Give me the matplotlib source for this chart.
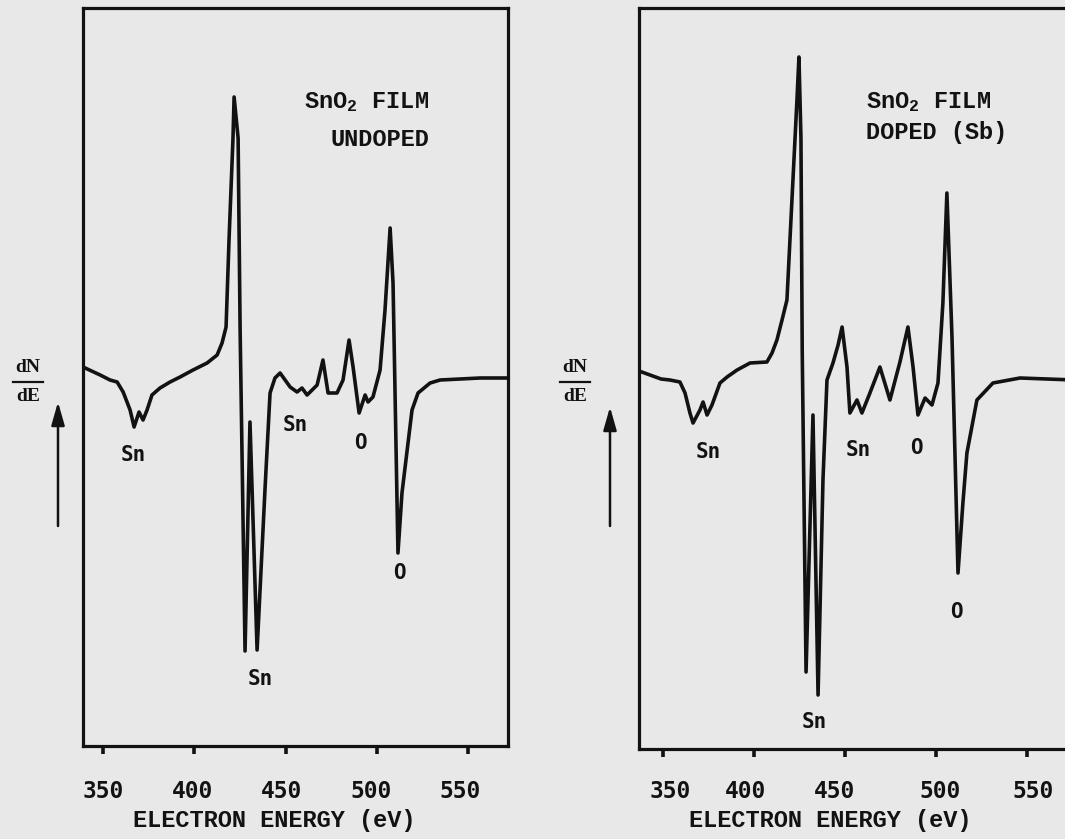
import matplotlib
matplotlib.use("Agg")
import matplotlib.pyplot as plt
from matplotlib.transforms import blended_transform_factory

plt.rcParams['mathtext.default'] = 'regular'

# ---------------- data (energy in eV, dN/dE in arbitrary units) ----------------
undoped_energy = [339.0, 348.4, 353.8, 357.7, 361.0, 364.8, 367.0, 369.7, 371.9, 374.1,
                  376.8, 381.2, 386.7, 392.2, 399.3, 407.0, 412.5, 415.2, 417.4, 419.0,
                  421.2, 421.8, 424.0, 425.1, 427.8, 430.5, 434.4, 438.8, 441.5, 444.2,
                  447.0, 452.5, 456.3, 459.0, 461.8, 467.3, 470.5, 473.3, 478.2, 481.5,
                  484.8, 487.0, 490.3, 493.6, 495.2, 497.9, 501.8, 504.5, 507.3, 508.9,
                  511.6, 513.8, 519.3, 522.6, 529.2, 534.7, 556.6, 571.9]
undoped_dnde = [381, 373, 368, 366, 356, 338, 321, 336, 328, 338,
                353, 360, 366, 371, 378, 385, 393, 405, 421, 507,
                610, 651, 610, 418, 97, 326, 98, 261, 355, 370,
                375, 361, 356, 360, 353, 363, 388, 355, 355, 368,
                408, 381, 335, 353, 346, 351, 378, 438, 520, 465,
                195, 255, 338, 355, 365, 368, 370, 370]

doped_energy = [336.8, 348.9, 353.8, 359.3, 362.1, 364.8, 366.5, 370.3, 372.0, 374.2,
                376.9, 381.3, 385.2, 390.7, 397.8, 407.1, 409.9, 412.6, 415.4, 418.1,
                421.4, 423.6, 424.7, 425.8, 426.5, 428.6, 432.4, 435.2, 437.9, 440.1,
                443.4, 446.2, 448.4, 451.1, 452.7, 456.6, 459.3, 463.7, 469.2, 474.7,
                480.2, 484.6, 487.4, 490.1, 494.0, 497.8, 501.1, 503.8, 506.0, 508.8,
                512.1, 514.8, 517.0, 522.5, 531.3, 546.2, 576.0]
doped_dnde = [380, 372, 371, 369, 358, 338, 328, 341, 349, 336,
              346, 368, 374, 381, 388, 389, 398, 411, 431, 451,
              571, 651, 694, 613, 400, 79, 336, 56, 271, 371,
              388, 406, 424, 384, 338, 351, 338, 358, 384, 351,
              389, 424, 384, 336, 353, 346, 368, 448, 558, 414,
              178, 248, 298, 351, 368, 373, 371]

tick_values = [350, 400, 450, 500, 550]
tick_labels = ['350', '400', '450', '500', '550']
undoped_title = ['SnO$_2$ FILM', 'UNDOPED']
doped_title = ['SnO$_2$ FILM', 'DOPED (Sb)']
undoped_peaks = ['Sn', 'Sn', 'Sn', 'O', 'O']
doped_peaks = ['Sn', 'Sn', 'Sn', 'O', 'O']
x_label = 'ELECTRON ENERGY (eV)'

# ---------------- styling ----------------
W, H = 1065, 839
PAPER = '#e8e8e8'
INK = '#121212'
MONO_SERIF = 'Liberation Mono'
MONO_SANS = 'DejaVu Sans Mono'

fig = plt.figure(figsize=(W / 100, H / 100), dpi=100, facecolor=PAPER)


def px(x, y):
    return x / W, 1 - y / H


def make_axes(rect, xlim, ylim):
    ax = fig.add_axes(rect)
    ax.set_facecolor('none')
    ax.set_xlim(*xlim)
    ax.set_ylim(*ylim)
    for s in ax.spines.values():
        s.set_linewidth(2.3)
        s.set_color(INK)
    ax.set_yticks([])
    ax.set_xticks(tick_values)
    ax.set_xticklabels([])
    ax.tick_params(axis='x', direction='out', length=6, width=2.6, color=INK)
    return ax


axL = make_axes([83 / W, 1 - 746 / H, 425 / W, 738 / H], (339.0, 571.9), (2, 740))
axR = make_axes([639 / W, 1 - 749 / H, 436 / W, 741 / H], (336.8, 576.4), (2, 743))

axL.plot(undoped_energy, undoped_dnde, color=INK, lw=2.6, solid_joinstyle='round')
axR.plot(doped_energy, doped_dnde, color=INK, lw=2.6, solid_joinstyle='round')

# tick labels (typed slightly off the tick marks in the original)
label_shift_L = [0, -1, -2, -3, -4.4]
label_shift_R = [3.7, -4.7, -5.5, 2.2, 3.3]
for ax, shifts in ((axL, label_shift_L), (axR, label_shift_R)):
    tr = blended_transform_factory(ax.transData, fig.transFigure)
    for v, lab, dv in zip(tick_values, tick_labels, shifts):
        ax.text(v + dv, 1 - 792 / H, lab, transform=tr, ha='center', va='center',
                fontsize=16.5, fontfamily=MONO_SANS, fontweight='bold', color=INK)

fig.text(*px(274, 820), x_label, ha='center', va='center', fontsize=17,
         fontfamily=MONO_SERIF, fontweight='bold', color=INK)
fig.text(*px(830, 820), x_label, ha='center', va='center', fontsize=17,
         fontfamily=MONO_SERIF, fontweight='bold', color=INK)

# titles
axL.text(528.6, 646, undoped_title[0], ha='right', va='center', fontsize=17,
         fontfamily=MONO_SERIF, fontweight='bold', color=INK)
axL.text(528.6, 608, undoped_title[1], ha='right', va='center', fontsize=17,
         fontfamily=MONO_SERIF, fontweight='bold', color=INK)
axR.text(461.5, 649, doped_title[0], ha='left', va='center', fontsize=17,
         fontfamily=MONO_SERIF, fontweight='bold', color=INK)
axR.text(461.5, 618, doped_title[1], ha='left', va='center', fontsize=17,
         fontfamily=MONO_SERIF, fontweight='bold', color=INK)

# peak labels
undoped_label_pos = [(366.4, 293), (436.0, 69), (455.2, 323), (490.8, 305), (512.2, 175)]
doped_label_pos = [(374.7, 299), (433.0, 29), (457.1, 301), (489.0, 303), (511.0, 139)]
for ax, labs, pos in ((axL, undoped_peaks, undoped_label_pos), (axR, doped_peaks, doped_label_pos)):
    for lab, (x, y) in zip(labs, pos):
        ax.text(x, y, lab, ha='center', va='center', fontsize=15,
                fontfamily=MONO_SANS, fontweight='bold', color=INK)

# dN/dE labels with arrows
for xc, arrow_x, tip_y in ((28, 58, 402), (575, 610, 407)):
    fig.text(*px(xc, 368), 'dN', ha='center', va='center', fontsize=14,
             fontfamily='Liberation Serif', fontweight='bold', color=INK)
    fig.text(*px(xc, 397), 'dE', ha='center', va='center', fontsize=14,
             fontfamily='Liberation Serif', fontweight='bold', color=INK)
    fig.add_artist(plt.Line2D([(xc - 15) / W, (xc + 15) / W], [1 - 382 / H, 1 - 382 / H],
                              color=INK, lw=1.6, transform=fig.transFigure))
    fig.add_artist(matplotlib.patches.FancyArrowPatch(
        px(arrow_x, 526), px(arrow_x, tip_y), transform=fig.transFigure,
        arrowstyle='-|>,head_length=14,head_width=4', lw=1.8, color=INK,
        shrinkA=0, shrinkB=0, mutation_scale=1))

fig.savefig('out.png', dpi=100, facecolor=PAPER)
